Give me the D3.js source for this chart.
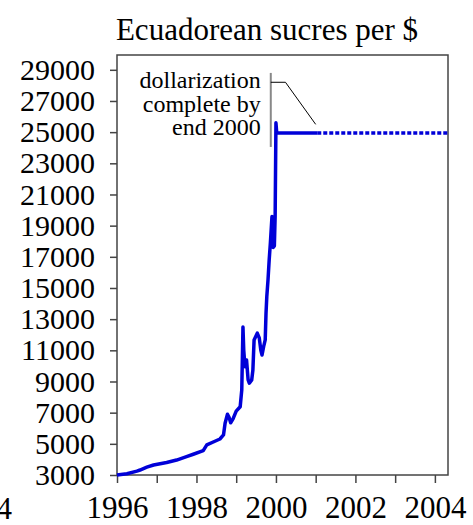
<!DOCTYPE html>
<meta charset="utf-8">
<script src="https://d3js.org/d3.v7.min.js"></script>
<style>
  body { margin: 0; background: #fff; }
  svg text { font-family: "Liberation Serif", serif !important; }
</style>
<div id="chart"></div>
<script>

// sucres per dollar, decimal year / value
var years = [1996.00, 1996.25, 1996.50, 1996.58, 1996.75, 1996.92, 1997.25, 1997.50, 1997.75, 1997.92,
             1998.17, 1998.26, 1998.45, 1998.59, 1998.68, 1998.72, 1998.78, 1998.82, 1998.86, 1998.92,
             1999.00, 1999.10, 1999.14, 1999.17, 1999.19, 1999.22, 1999.26, 1999.30, 1999.33, 1999.39,
             1999.42, 1999.45, 1999.53, 1999.58, 1999.62, 1999.65, 1999.69, 1999.73, 1999.75, 1999.77,
             1999.80, 1999.83, 1999.86, 1999.90, 1999.93, 1999.96, 1999.98, 2000.00, 2000.02, 2000.30,
             2000.60, 2001.04];
var rates = [3000, 3080, 3250, 3320, 3500, 3640, 3800, 3960, 4180, 4330,
             4560, 4930, 5150, 5310, 5570, 6320, 6900, 6700, 6350, 6600,
             7100, 7380, 8460, 12500, 11000, 9950, 10380, 9100, 8890, 9100,
             9740, 11670, 12100, 11800, 11000, 10700, 11240, 11670, 13380, 14450,
             15500, 16800, 17900, 19580, 17600, 17700, 19600, 25600, 24950, 24950,
             24950, 24950];

// fixed rate after dollarization (dotted)
var fixedYears = [2001.04, 2004.33];
var fixedRates = [24950, 24950];

var yTicks = [3000, 5000, 7000, 9000, 11000, 13000, 15000, 17000, 19000, 21000, 23000, 25000, 27000, 29000];
var xTicks = [1996, 1997, 1998, 1999, 2000, 2001, 2002, 2003, 2004];
var xLabels = [1996, 1998, 2000, 2002, 2004];

var title = "Ecuadorean sucres per $";
var note = ["dollarization", "complete by", "end 2000"];

var width = 473, height = 525;
var margin = {top: 55, right: 25, bottom: 50, left: 117};
var w = width - margin.left - margin.right,
    h = height - margin.top - margin.bottom;

var svg = d3.select("#chart").append("svg")
    .attr("width", width)
    .attr("height", height);

var g = svg.append("g")
    .attr("transform", "translate(" + margin.left + "," + margin.top + ")");

var x = d3.scaleLinear().domain([1996, 2004.33]).range([0, w]);
var y = d3.scaleLinear().domain([3000, 29950]).range([h, 0]);

// y axis
var yAxis = g.append("g")
    .call(d3.axisLeft(y).tickValues(yTicks).tickSize(7).tickSizeOuter(0).tickFormat(d3.format("d")));
yAxis.select(".domain").remove();
yAxis.selectAll("line").attr("stroke", "#444").attr("stroke-width", 1.5);
yAxis.selectAll("text")
    .attr("x", -22)
    .attr("fill", "#000")
    .style("font-size", "30px");

// x axis (ticks every year, labels every other)
var xAxis = g.append("g")
    .attr("transform", "translate(0," + h + ")")
    .call(d3.axisBottom(x).tickValues(xTicks).tickSize(8).tickSizeOuter(0)
      .tickFormat(function(d) { return xLabels.indexOf(d) >= 0 ? d : ""; }));
xAxis.select(".domain").remove();
xAxis.selectAll("line").attr("stroke", "#444").attr("stroke-width", 1.5);
xAxis.selectAll("text")
    .attr("y", 21)
    .attr("fill", "#000")
    .style("font-size", "31px");

// frame
g.append("rect")
    .attr("width", w)
    .attr("height", h)
    .attr("fill", "none")
    .attr("stroke", "#444")
    .attr("stroke-width", 1.5);

// leftover label from the neighbouring panel
svg.append("text")
    .attr("x", 12)
    .attr("y", margin.top + h + 44)
    .attr("text-anchor", "end")
    .style("font-size", "31px")
    .text("2004");

// title
svg.append("text")
    .attr("x", 267)
    .attr("y", 40)
    .attr("text-anchor", "middle")
    .style("font-size", "31px")
    .text(title);

var line = d3.line()
    .x(function(d) { return x(d[0]); })
    .y(function(d) { return y(d[1]); });

g.append("path")
    .datum(d3.zip(years, rates))
    .attr("fill", "none")
    .attr("stroke", "#0000d8")
    .attr("stroke-width", 3.5)
    .attr("stroke-linejoin", "round")
    .attr("d", line);

g.append("path")
    .datum(d3.zip(fixedYears, fixedRates))
    .attr("fill", "none")
    .attr("stroke", "#0000d8")
    .attr("stroke-width", 3.5)
    .attr("stroke-dasharray", "4,2")
    .attr("d", line);

// annotation
var noteX = x(1999.87), noteTop = y(28800), noteBottom = y(24050);
g.append("line")
    .attr("x1", noteX).attr("x2", noteX)
    .attr("y1", noteTop).attr("y2", noteBottom)
    .attr("stroke", "#888")
    .attr("stroke-width", 2);
g.append("polyline")
    .attr("points", [[noteX, y(28200)], [x(2000.24), y(28200)], [x(2001.0), y(25500)]].join(" "))
    .attr("fill", "none")
    .attr("stroke", "#000")
    .attr("stroke-width", 1);

g.selectAll(".note")
    .data(note)
  .enter().append("text")
    .attr("class", "note")
    .attr("x", noteX - 10)
    .attr("y", function(d, i) { return 33 + i * 23.5; })
    .attr("text-anchor", "end")
    .style("font-size", "24px")
    .text(function(d) { return d; });

</script>
